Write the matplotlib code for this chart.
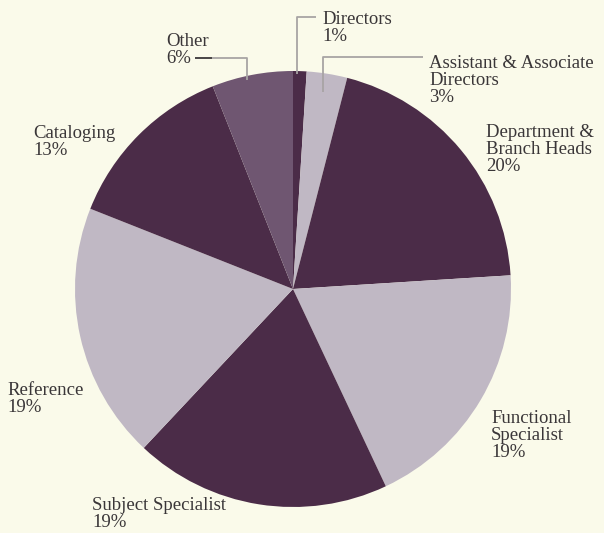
import matplotlib.pyplot as plt

# slice data, clockwise from 12 o'clock
labels = ["Directors", "Assistant & Associate\nDirectors", "Department &\nBranch Heads",
          "Functional\nSpecialist", "Subject Specialist", "Reference", "Cataloging", "Other"]
shares = [1, 3, 20, 19, 19, 19, 13, 6]

DARK = "#4b2c48"
LIGHT = "#c0b8c4"
MID = "#6f5671"
colors = [DARK, LIGHT, DARK, LIGHT, DARK, LIGHT, DARK, MID]

BG = "#fafaea"
TXT = "#3a3638"
LEAD = "#a8a4a4"

W, H = 604, 533


def py(y):
    # pixel row (from top) -> axis y (from bottom)
    return H - y


fig = plt.figure(figsize=(W / 100, H / 100), dpi=100, facecolor=BG)
ax = fig.add_axes([0, 0, 1, 1])
ax.set_facecolor(BG)

ax.pie(shares, colors=colors, startangle=90, counterclock=False,
       center=(293, py(289)), radius=218, frame=True,
       wedgeprops=dict(linewidth=0))
ax.set_xlim(0, W)
ax.set_ylim(0, H)
ax.set_aspect("equal")
ax.axis("off")

# label text: (x, top y in px)
label_pos = [(322, 11), (429, 55), (486, 124), (491, 410), (92, 497),
             (7, 382), (33, 125), (166, 33)]
for lab, val, (x, y) in zip(labels, shares, label_pos):
    ax.text(x, py(y), f"{lab}\n{val}%", ha="left", va="top",
            fontsize=13.5, family="Liberation Serif", color=TXT, linespacing=1.0)

# leader lines
ax.plot([297, 297, 316], [py(74), py(17), py(17)], color=LEAD, lw=1.3, solid_capstyle="butt")
ax.plot([323, 323, 423], [py(92), py(57), py(57)], color=LEAD, lw=1.3, solid_capstyle="butt")
ax.plot([247, 247, 212], [py(80), py(58), py(58)], color=LEAD, lw=1.3, solid_capstyle="butt")
ax.plot([195, 212], [py(58), py(58)], color=TXT, lw=1.3, solid_capstyle="butt")

fig.savefig("out.png", dpi=100, facecolor=BG)
